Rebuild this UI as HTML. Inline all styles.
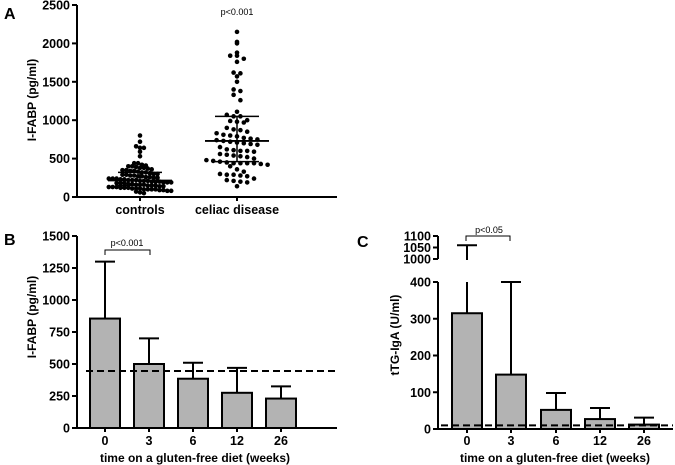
<!DOCTYPE html>
<html><head><meta charset="utf-8">
<style>
html,body{margin:0;padding:0;background:#fff;}
svg{display:block;font-family:"Liberation Sans",Arial,sans-serif;}
.tk{font-size:12.5px;font-weight:bold;text-anchor:end;}
.xl{font-size:12.5px;font-weight:bold;text-anchor:middle;}
.ti{font-size:12px;font-weight:bold;text-anchor:middle;}
.pl{font-size:16px;font-weight:bold;}
.pv{font-size:9px;text-anchor:middle;}
</style></head>
<body>
<svg id="fig" width="675" height="465" viewBox="0 0 675 465"></svg>
<script>
// ---- Panel A data ----
const aCategories = ["controls","celiac disease"];
const aControls = [800,720,660,640,640,590,530,440,440,420,410,400,400,390,380,380,370,360,350,350,340,340,330,320,320,310,300,300,290,290,280,280,270,270,260,260,250,250,240,240,240,230,230,220,220,220,210,210,210,200,200,200,190,190,190,180,180,180,170,170,160,160,160,150,150,150,140,140,130,130,130,120,120,120,110,110,110,100,100,100,100,90,90,80,80,70,60,50];
const aCeliac = [2150,2020,2000,1880,1840,1840,1800,1760,1620,1610,1570,1500,1400,1380,1330,1260,1110,1070,1050,1050,1000,990,980,970,900,880,870,850,830,810,800,790,770,760,750,740,730,720,710,700,690,680,650,620,610,600,600,590,560,550,540,530,520,500,480,470,460,450,440,440,440,440,430,420,400,360,330,300,290,290,280,270,240,220,210,200,190,140];
const aMedian = [215,730];
const aQ1 = [150,460];
const aQ3 = [320,1050];
const aTicks = [0,500,1000,1500,2000,2500];
// ---- Panel B data ----
const bCategories = ["0","3","6","12","26"];
const bMeans = [855,500,385,275,230];
const bErrTop = [1300,700,510,470,325];
const bRef = 445;
const bTicks = [0,250,500,750,1000,1250,1500];
// ---- Panel C data ----
const cCategories = ["0","3","6","12","26"];
const cMeans = [315,148,52,27,12];
const cErrTop = [1060,400,98,57,31];
const cRef = 10;
const cTicksLow = [0,100,200,300,400];
const cTicksHigh = [1000,1050,1100];

const svg = document.getElementById('fig');
const NS = "http://www.w3.org/2000/svg";
function el(tag, attrs, parent){
  const e = document.createElementNS(NS, tag);
  for (const k in attrs) e.setAttribute(k, attrs[k]);
  (parent||svg).appendChild(e);
  return e;
}
function txt(x,y,s,cls,extra){
  const t = el('text',Object.assign({x:x,y:y,class:cls},extra||{}));
  t.textContent = s; return t;
}
const LW = 2;

// ===== Panel A =====
const gA = el('g',{});


const aX0=77, aX1=337, aY0=197, aY1=5;
const ayS = v => aY0 - v/2500*(aY0-aY1);
const aCx = [140,237];
let t = txt(4,19,"A","pl",{}); gA.appendChild(t);


let ax = el('line',{x1:aX0,y1:aY1,x2:aX0,y2:aY0+1,stroke:'#000','stroke-width':LW},gA);


ax = el('line',{x1:aX0-1,y1:aY0,x2:aX1,y2:aY0,stroke:'#000','stroke-width':LW},gA);


aTicks.forEach(v=>{
  const y=ayS(v);
  el('line',{x1:aX0-5,y1:y,x2:aX0,y2:y,stroke:'#000','stroke-width':LW},gA);
  const tt=txt(aX0-7,y+4.5,String(v),'tk'); gA.appendChild(tt);
  
  
});
aCx.forEach((cx,i)=>{
  el('line',{x1:cx,y1:aY0,x2:cx,y2:aY0+4,stroke:'#000','stroke-width':LW},gA);
  const tt=txt(cx,214,aCategories[i],'xl'); gA.appendChild(tt);
  tt.setAttribute('font-size','13');
  
  
});
t=txt(0,0,"I-FABP (pg/ml)","ti",{transform:"translate(36,100) rotate(-90)"}); gA.appendChild(t);


t=txt(237,15,"p<0.001","pv"); gA.appendChild(t);


// row-binned scatter
const R=2.3;
const rowH=[4.2,6.5], colW=[3.9,6.8];
[aControls,aCeliac].forEach((vals,gi)=>{
  const bins={};
  vals.forEach(v=>{
    const b=Math.round(ayS(v)/rowH[gi]);
    (bins[b]=bins[b]||[]).push(v);
  });
  Object.keys(bins).forEach(b=>{
    const arr=bins[b], n=arr.length;
    arr.forEach((v,j)=>{
      const off=(j-(n-1)/2)*colW[gi];
      const c=el('circle',{cx:aCx[gi]+off,cy:ayS(v),r:R,fill:'#000'},gA);
      
      
    });
  });
  const cx=aCx[gi];
  let m=el('line',{x1:cx-32,y1:ayS(aMedian[gi]),x2:cx+32,y2:ayS(aMedian[gi]),stroke:'#000','stroke-width':1.8},gA);
  
  
  el('line',{x1:cx,y1:ayS(aQ1[gi]),x2:cx,y2:ayS(aQ3[gi]),stroke:'#000','stroke-width':1.5},gA);
  [aQ1[gi],aQ3[gi]].forEach(q=>{
    const w=el('line',{x1:cx-22,y1:ayS(q),x2:cx+22,y2:ayS(q),stroke:'#000','stroke-width':1.5},gA);
    
    
  });
});

// ===== Bar panel helper =====
function barPanel(g, prefix, xCenters, means, errs, ySc, x0, x1, y0, cats){
  means.forEach((v,i)=>{
    const cx=xCenters[i], top=ySc(v), et=ySc(errs[i]);
    const e=el('line',{x1:cx,y1:top,x2:cx,y2:et,stroke:'#000','stroke-width':LW},g);
    
    
    const c=el('line',{x1:cx-10,y1:et,x2:cx+10,y2:et,stroke:'#000','stroke-width':LW},g);
    
    
    const b=el('rect',{x:cx-15,y:top,width:30,height:y0-top,fill:'#b3b3b3',stroke:'#000','stroke-width':LW},g);
    
    
    el('line',{x1:cx,y1:y0,x2:cx,y2:y0+4,stroke:'#000','stroke-width':LW},g);
    const tl=txt(cx,y0+17,cats[i],'xl'); g.appendChild(tl);
    
    
  });
}

// ===== Panel B =====
const gB = el('g',{});


const bX0=77,bX1=337,bY0=428,bY1=236;
const byS = v => bY0 - v/1500*(bY0-bY1);
const bCx=[105,149,193,237,281];
t=txt(4,245,"B","pl"); gB.appendChild(t);


barPanel(gB,'b',bCx,bMeans,bErrTop,byS,bX0,bX1,bY0,bCategories);
ax=el('line',{x1:bX0,y1:bY1,x2:bX0,y2:bY0+1,stroke:'#000','stroke-width':LW},gB);


ax=el('line',{x1:bX0-1,y1:bY0,x2:bX1,y2:bY0,stroke:'#000','stroke-width':LW},gB);


bTicks.forEach(v=>{
  const y=byS(v);
  el('line',{x1:bX0-5,y1:y,x2:bX0,y2:y,stroke:'#000','stroke-width':LW},gB);
  const tt=txt(bX0-7,y+4.5,String(v),'tk'); gB.appendChild(tt);
  
  
});
let dl=el('line',{x1:86,y1:byS(bRef),x2:bX1,y2:byS(bRef),stroke:'#000','stroke-width':LW,'stroke-dasharray':'7,4'},gB);


let br=el('polyline',{points:`${bCx[0]},255 ${bCx[0]},250 ${bCx[1]+1},250 ${bCx[1]+1},255`,fill:'none',stroke:'#000','stroke-width':1},gB);


t=txt(127,246,"p<0.001","pv"); gB.appendChild(t);


t=txt(0,0,"I-FABP (pg/ml)","ti",{transform:"translate(36,317) rotate(-90)"}); gB.appendChild(t);


t=txt(195,462,"time on a gluten-free diet (weeks)","ti"); gB.appendChild(t);



// ===== Panel C =====
const gC = el('g',{});


const cX0=438,cX1=673,cY0=429,cYlo=282,cYhb=259,cYht=236;
const cyS = v => v<=400 ? cY0 - v/400*(cY0-cYlo) : cYhb - (v-1000)/100*(cYhb-cYht);
const cCx=[467,511,556,600,644];
t=txt(357,247,"C","pl"); gC.appendChild(t);


cMeans.forEach((v,i)=>{
  const cx=cCx[i], top=cyS(v);
  if(cErrTop[i]>400){
    el('line',{x1:cx,y1:top,x2:cx,y2:cyS(400),stroke:'#000','stroke-width':LW},gC);
    el('line',{x1:cx,y1:cyS(1000)+1,x2:cx,y2:cyS(cErrTop[i]),stroke:'#000','stroke-width':LW},gC);
  } else {
    el('line',{x1:cx,y1:top,x2:cx,y2:cyS(cErrTop[i]),stroke:'#000','stroke-width':LW},gC);
  }
  const et=cyS(cErrTop[i]);
  const c=el('line',{x1:cx-10,y1:et,x2:cx+10,y2:et,stroke:'#000','stroke-width':LW},gC);
  
  
  const b=el('rect',{x:cx-15,y:top,width:30,height:cY0-top,fill:'#b3b3b3',stroke:'#000','stroke-width':LW},gC);
  
  
  el('line',{x1:cx,y1:cY0,x2:cx,y2:cY0+4,stroke:'#000','stroke-width':LW},gC);
  const tl=txt(cx,cY0+16,cCategories[i],'xl'); gC.appendChild(tl);
  
  
});
ax=el('line',{x1:cX0,y1:cYlo,x2:cX0,y2:cY0+1,stroke:'#000','stroke-width':LW},gC);


ax=el('line',{x1:cX0,y1:cYht,x2:cX0,y2:cYhb,stroke:'#000','stroke-width':LW},gC);


ax=el('line',{x1:cX0-1,y1:cY0,x2:cX1,y2:cY0,stroke:'#000','stroke-width':LW},gC);


cTicksLow.concat(cTicksHigh).forEach(v=>{
  const y=cyS(v);
  el('line',{x1:cX0-5,y1:y,x2:cX0,y2:y,stroke:'#000','stroke-width':LW},gC);
  const tt=txt(cX0-7,y+4.5,String(v),'tk'); gC.appendChild(tt);
  
  
});
dl=el('line',{x1:cX0+3,y1:cyS(cRef),x2:cX1,y2:cyS(cRef),stroke:'#000','stroke-width':LW,'stroke-dasharray':'7,4'},gC);


br=el('polyline',{points:`${cCx[0]-1},241 ${cCx[0]-1},236 ${cCx[1]-1},236 ${cCx[1]-1},241`,fill:'none',stroke:'#000','stroke-width':1},gC);


t=txt(489,233,"p<0.05","pv"); gC.appendChild(t);


t=txt(0,0,"tTG-IgA (U/ml)","ti",{transform:"translate(399,335) rotate(-90)"}); gC.appendChild(t);


t=txt(555,462,"time on a gluten-free diet (weeks)","ti"); gC.appendChild(t);


</script>
</body></html>
